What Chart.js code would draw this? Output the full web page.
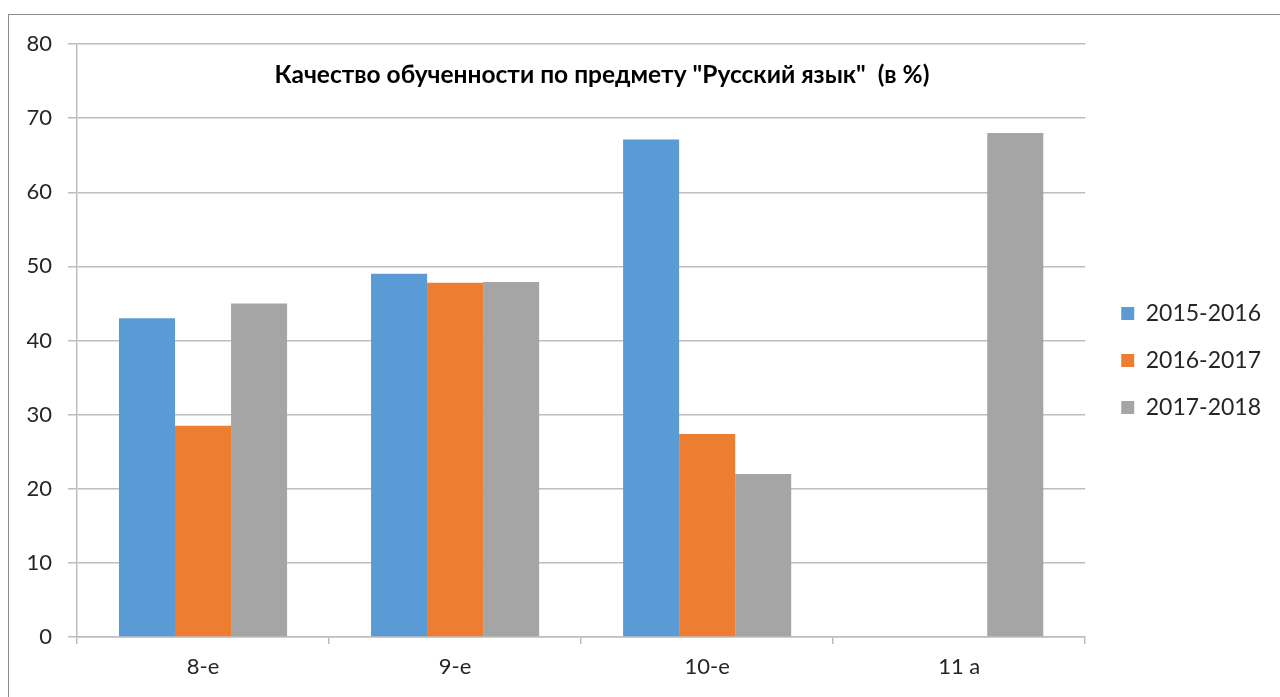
<!DOCTYPE html>
<html>
<head>
<meta charset="utf-8">
<script src="https://cdn.jsdelivr.net/npm/chart.js@4"></script>
<style>
  html, body { margin: 0; padding: 0; background: #fff; overflow: hidden; }
  #frame { position: absolute; left: 8px; top: 14px; width: 1400px; height: 800px; border: 1px solid #8c8c8c; }
  #wrap { position: absolute; left: 0; top: 0; width: 1280px; height: 697px; }
</style>
</head>
<body>
<div id="frame"></div>
<div id="wrap"><canvas id="barChart"></canvas></div>
<script>
// --- DATA ---
const classLabels = ['8-e', '9-e', '10-e', '11 a'];
const year2015 = [43, 49, 67.1, null];
const year2016 = [28.5, 47.8, 27.4, null];
const year2017 = [45, 47.9, 22, 68];
const seriesNames = ['2015-2016', '2016-2017', '2017-2018'];
const chartTitle = 'Качество обученности по предмету "Русский язык"  (в %)';

const textColor = '#262626';
const gridColor = '#bdbdbd';

Chart.defaults.font.family = "Lato, 'Open Sans', sans-serif";
Chart.defaults.color = textColor;

// title sits inside the plot, like in the original Excel chart
const innerTitle = {
    id: 'innerTitle',
    afterDraw(chart) {
        const ctx = chart.ctx;
        ctx.save();
        ctx.font = "bold 24.5px Lato, 'Open Sans', sans-serif";
        ctx.fillStyle = '#000';
        ctx.textAlign = 'center';
        ctx.textBaseline = 'middle';
        ctx.fillText(chartTitle, 602, 75);
        ctx.restore();
    }
};

// legend in the original sits a bit higher and further right
const moveLegend = {
    id: 'moveLegend',
    afterLayout(chart) {
        const lg = chart.legend;
        lg.top -= 10;
        lg.bottom -= 10;
        lg.left += 12;
        lg.right += 12;
    }
};

const ctxBar = document.getElementById('barChart');
new Chart(ctxBar, {
    type: 'bar',
    data: {
        labels: classLabels,
        datasets: [
            { label: seriesNames[0], data: year2015, backgroundColor: '#5b9bd5' },
            { label: seriesNames[1], data: year2016, backgroundColor: '#ed7d31' },
            { label: seriesNames[2], data: year2017, backgroundColor: '#a5a5a5' }
        ]
    },
    options: {
        responsive: true,
        maintainAspectRatio: false,
        animation: false,
        datasets: {
            bar: { barPercentage: 1, categoryPercentage: 0.667 }
        },
        layout: { padding: { top: 44, left: 0, right: 21, bottom: 0 } },
        scales: {
            y: {
                min: 0,
                max: 80,
                ticks: { stepSize: 10, padding: 16, font: { size: 22 }, color: textColor },
                grid: { color: gridColor, lineWidth: 1.5, tickLength: 9 },
                border: { color: gridColor, width: 1.5 },
                afterFit(s) { s.width = 77; }
            },
            x: {
                ticks: { padding: 10, font: { size: 22 }, color: textColor },
                grid: { drawOnChartArea: false, color: gridColor, lineWidth: 1.5, tickLength: 7 },
                border: { color: gridColor, width: 1.5 },
                afterFit(s) { s.height = 60; }
            }
        },
        plugins: {
            title: { display: false },
            tooltip: { enabled: false },
            legend: {
                position: 'right',
                labels: {
                    boxWidth: 13,
                    boxHeight: 13,
                    padding: 24,
                    color: textColor,
                    font: { size: 23 }
                }
            }
        }
    },
    plugins: [innerTitle, moveLegend]
});
</script>
</body>
</html>
